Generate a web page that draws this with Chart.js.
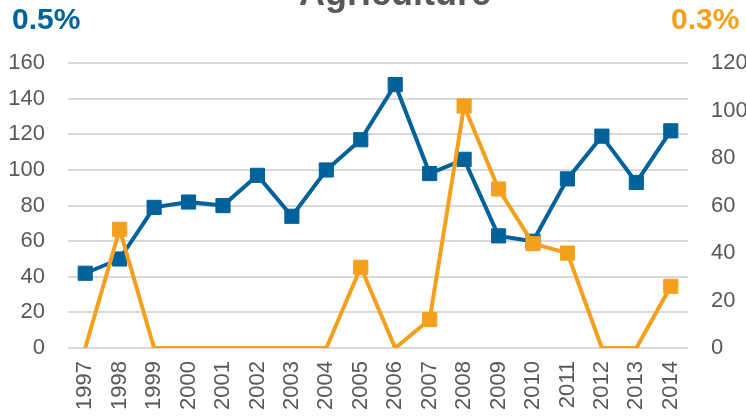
<!DOCTYPE html>
<html>
<head>
<meta charset="utf-8">
<script src="https://cdn.jsdelivr.net/npm/chart.js@4/dist/chart.umd.min.js"></script>
<style>
    html, body { margin: 0; padding: 0; background: #fff; overflow: hidden; }
    body { width: 746px; height: 420px; position: relative; }
    #wrap { position: absolute; left: 0; top: -50px; width: 790px; height: 470px; }
    .share { position: absolute; top: 2px; font: bold 30px "Liberation Sans", Arial, sans-serif; }
    #shareA { left: 12px; color: #00629b; }
    #shareB { left: 671px; color: #f5a01d; }
</style>
</head>
<body>
<div id="wrap"><canvas id="chart"></canvas></div>
<div class="share" id="shareA">0.5%</div>
<div class="share" id="shareB">0.3%</div>
<script>
const years = ['1997', '1998', '1999', '2000', '2001', '2002', '2003', '2004', '2005',
    '2006', '2007', '2008', '2009', '2010', '2011', '2012', '2013', '2014'];
const blueValues = [42, 50, 79, 82, 80, 97, 74, 100, 117, 148, 98, 106, 63, 60, 95, 119, 93, 122];
const orangeValues = [0, 50, 0, 0, 0, 0, 0, 0, 34, 0, 12, 102, 67, 44, 40, 0, 0, 26];
const leftTicks = [0, 20, 40, 60, 80, 100, 120, 140, 160];
const rightTicks = [0, 20, 40, 60, 80, 100, 120];
const title = 'Agriculture';

const BLUE = '#00629b';
const ORANGE = '#f5a01d';
const GREY = '#595959';
const FONT = '"Liberation Sans", Arial, sans-serif';

function lineDataset(label, data, color, axis, hideZero) {
    return {
        label,
        data,
        yAxisID: axis,
        borderColor: color,
        backgroundColor: color,
        borderWidth: 4,
        pointStyle: 'rect',
        pointRadius: hideZero ? (c => c.raw === 0 ? 0 : 10) : 10,
        pointBorderWidth: 1,
        tension: 0
    };
}

new Chart(document.getElementById('chart').getContext('2d'), {
    type: 'line',
    data: {
        labels: years,
        datasets: [
            lineDataset('0.3%', orangeValues, ORANGE, 'y1', true),
            lineDataset('0.5%', blueValues, BLUE, 'y', false)
        ]
    },
    options: {
        responsive: true,
        maintainAspectRatio: false,
        animation: false,
        layout: { padding: 0 },
        plugins: {
            legend: { display: false },
            tooltip: { enabled: false },
            title: {
                display: true,
                text: title,
                color: GREY,
                font: { family: FONT, size: 36, weight: 'bold' },
                padding: { top: 23, bottom: 47 }
            }
        },
        scales: {
            x: {
                offset: true,
                grid: { display: false, drawTicks: false },
                border: { display: false },
                ticks: {
                    color: GREY,
                    font: { family: FONT, size: 22 },
                    minRotation: 90,
                    maxRotation: 90,
                    autoSkip: false,
                    padding: 13
                },
                afterFit: axis => { axis.height = 72; }
            },
            y: {
                position: 'left',
                min: 0,
                max: 160,
                afterBuildTicks: axis => { axis.ticks = leftTicks.map(v => ({ value: v })); },
                grid: { color: '#d9d9d9', lineWidth: 2, drawTicks: false },
                border: { display: false },
                ticks: { color: GREY, font: { family: FONT, size: 22 }, padding: 23 },
                afterFit: axis => { axis.width = 68; }
            },
            y1: {
                position: 'right',
                min: 0,
                max: 120,
                afterBuildTicks: axis => { axis.ticks = rightTicks.map(v => ({ value: v })); },
                grid: { drawOnChartArea: false, drawTicks: false },
                border: { display: false },
                ticks: { color: GREY, font: { family: FONT, size: 22 }, padding: 23 },
                afterFit: axis => { axis.width = 102; }
            }
        }
    }
});
</script>
</body>
</html>
